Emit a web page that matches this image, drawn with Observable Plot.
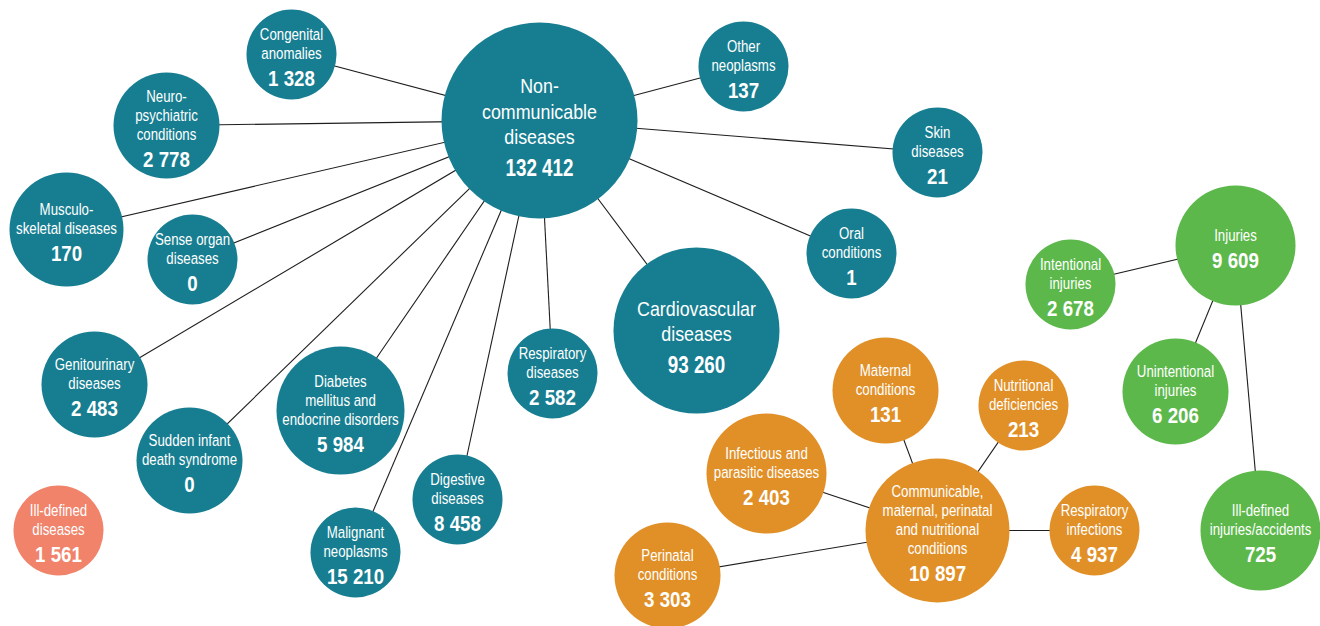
<!DOCTYPE html>
<html><head><meta charset="utf-8">
<script src="https://cdn.jsdelivr.net/npm/d3@7"></script>
<script src="https://cdn.jsdelivr.net/npm/@observablehq/plot@0.6"></script>
<style>html,body{margin:0;padding:0;background:#fff;overflow:hidden}#chart svg{display:block}</style>
</head><body><div id="chart"></div>
<script>
// Node identifiers
const ids = ["ncd","cong","neuro","musc","sense","genito","sids","diab","malig","dig","resp","cardio","oral","skin","oneo","illdis",
             "comm","matern","nutri","infect","respinf","perin",
             "inj","intent","unint","illinj"];
// Labels as printed (line breaks as in the source)
const labels = ["Non-\ncommunicable\ndiseases","Congenital\nanomalies","Neuro-\npsychiatric\nconditions","Musculo-\nskeletal diseases",
  "Sense organ\ndiseases","Genitourinary\ndiseases","Sudden infant\ndeath syndrome","Diabetes\nmellitus and\nendocrine disorders",
  "Malignant\nneoplasms","Digestive\ndiseases","Respiratory\ndiseases","Cardiovascular\ndiseases","Oral\nconditions",
  "Skin\ndiseases","Other\nneoplasms","Ill-defined\ndiseases",
  "Communicable,\nmaternal, perinatal\nand nutritional\nconditions","Maternal\nconditions","Nutritional\ndeficiencies",
  "Infectious and\nparasitic diseases","Respiratory\ninfections","Perinatal\nconditions",
  "Injuries","Intentional\ninjuries","Unintentional\ninjuries","Ill-defined\ninjuries/accidents"];
// Values
const values = [132412,1328,2778,170,0,2483,0,5984,15210,8458,2582,93260,1,21,137,1561,
                10897,131,213,2403,4937,3303,
                9609,2678,6206,725];
// Group of each node
const groups = ["Non-communicable","Non-communicable","Non-communicable","Non-communicable","Non-communicable","Non-communicable",
  "Non-communicable","Non-communicable","Non-communicable","Non-communicable","Non-communicable","Non-communicable",
  "Non-communicable","Non-communicable","Non-communicable","Ill-defined",
  "Communicable","Communicable","Communicable","Communicable","Communicable","Communicable",
  "Injuries","Injuries","Injuries","Injuries"];
// Hub each node is linked to
const parents = [null,"ncd","ncd","ncd","ncd","ncd","ncd","ncd","ncd","ncd","ncd","ncd","ncd","ncd","ncd",null,
                 null,"comm","comm","comm","comm","comm",
                 null,"inj","inj","inj"];
const layoutX = [539,291,166,66,192,94,189,340,355,457,552,696,851,937,743,58,
                 937,885,1023,766,1094,667,
                 1235,1070,1175,1260];
const layoutY = [120,54,125,229,259,384,460,410,552,499,373,330,253,152,66,530,
                 530,390,405,473,530,575,
                 245,284,391,530];
const bubbleSize = [98,45,53,57,45,53,53,64,45,45,45,83,45,45,45,45,
                    72,53,45,60,45,53,
                    60,45,53,60];

const groupDomain = ["Non-communicable","Communicable","Injuries","Ill-defined"];
const groupColors = ["#177e91","#e19028","#5cb84a","#f0836a"];

const fmt = d3.formatLocale({thousands:" ", grouping:[3], decimal:"."}).format(",d");

const nodes = ids.map((id,i)=>{
  const big = bubbleSize[i] > 75;
  const n = labels[i].split("\n").length;
  const lineH = big ? 25.5 : 19, gap = big ? 32 : 26, off = big ? 6 : 2;
  const vy = layoutY[i] + off + ((n-1)*lineH + gap)/2;
  return {id, label: labels[i], value: values[i], group: groups[i], parent: parents[i],
          x: layoutX[i], y: layoutY[i], r: bubbleSize[i], big,
          valueY: vy, labelY: vy - gap - (n-1)*lineH/2};
});
const byId = new Map(nodes.map(d=>[d.id,d]));
const links = nodes.filter(d=>d.parent).map(d=>({s: byId.get(d.parent), t: d}));

const FONT = "'Liberation Sans',Arial,Helvetica,sans-serif";

const chart = Plot.plot({
  width: 1320, height: 626, margin: 0,
  style: {fontFamily: FONT, background: "#fff"},
  x: {domain: [0,1320], axis: null},
  y: {domain: [0,626], reverse: true, axis: null},
  r: {type: "identity"},
  color: {domain: groupDomain, range: groupColors},
  marks: [
    Plot.link(links, {x1: d=>d.s.x, y1: d=>d.s.y, x2: d=>d.t.x, y2: d=>d.t.y, stroke: "#1e1e1e", strokeWidth: 1.1}),
    Plot.dot(nodes, {x: "x", y: "y", r: "r", fill: "group", stroke: null}),
    Plot.text(nodes.filter(d=>!d.big), {x: "x", y: "labelY", text: "label", fill: "white", fontSize: 17, lineHeight: 19/17, lineAnchor: "middle"}),
    Plot.text(nodes.filter(d=>d.big), {x: "x", y: "labelY", text: "label", fill: "white", fontSize: 21, lineHeight: 25.5/21, lineAnchor: "middle"}),
    Plot.text(nodes.filter(d=>!d.big), {x: "x", y: "valueY", text: d=>fmt(d.value), fill: "white", fontSize: 22, fontWeight: "bold", lineAnchor: "middle"}),
    Plot.text(nodes.filter(d=>d.big), {x: "x", y: "valueY", text: d=>fmt(d.value), fill: "white", fontSize: 23.5, fontWeight: "bold", lineAnchor: "middle"})
  ]
});
// Condensed look: squeeze text horizontally (the source uses a condensed typeface)
const squeeze = [0.78, 0.85, 0.85, 0.8];
chart.querySelectorAll('g[aria-label="text"]').forEach((g, k) => {
  const s = squeeze[k] ?? 0.82;
  g.querySelectorAll("text").forEach(t => {
    const tr = t.getAttribute("transform");
    if (tr) t.setAttribute("transform", tr + ` scale(${s},1)`);
    else {
      const x = t.getAttribute("x") || 0, y = t.getAttribute("y") || 0;
      t.removeAttribute("x"); t.removeAttribute("y");
      t.setAttribute("transform", `translate(${x},${y}) scale(${s},1)`);
    }
  });
});
document.getElementById("chart").appendChild(chart);
</script>
</body></html>
